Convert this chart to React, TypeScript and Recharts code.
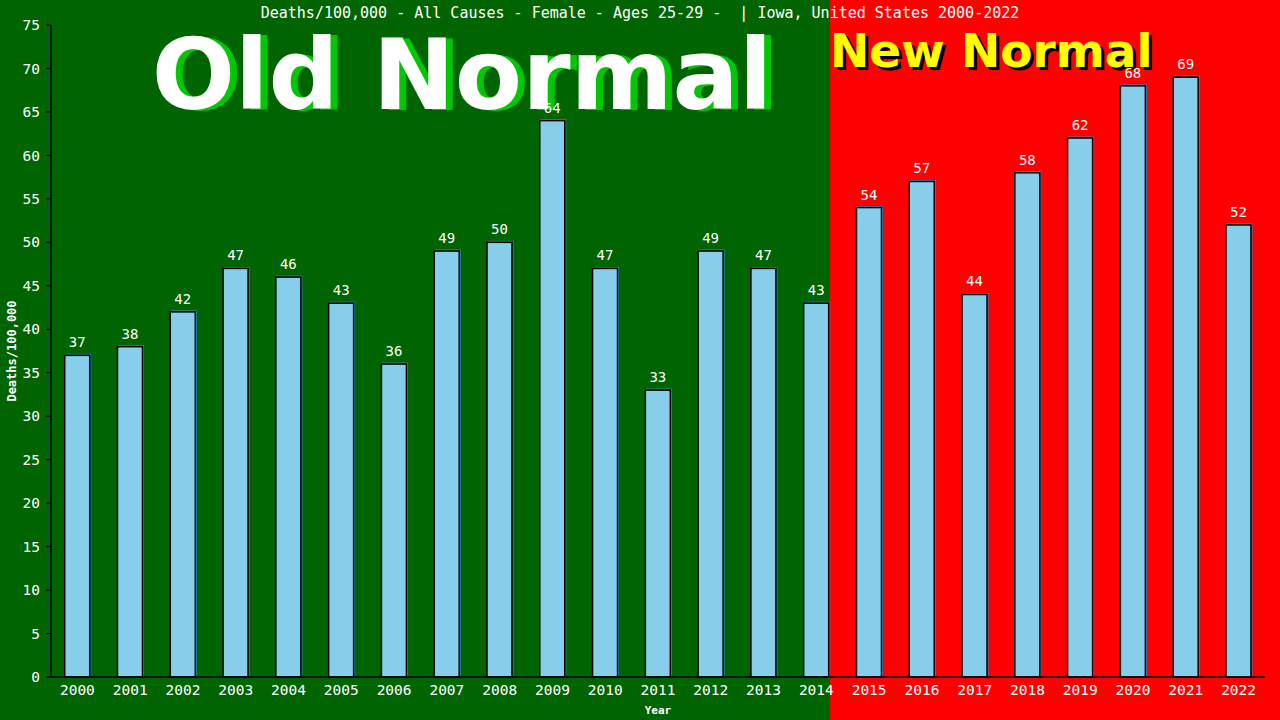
import { Bar, BarChart, LabelList, XAxis, YAxis } from "recharts";

const years = [
  "2000", "2001", "2002", "2003", "2004", "2005", "2006", "2007", "2008", "2009", "2010", "2011",
  "2012", "2013", "2014", "2015", "2016", "2017", "2018", "2019", "2020", "2021", "2022",
];
const deaths = [37, 38, 42, 47, 46, 43, 36, 49, 50, 64, 47, 33, 49, 47, 43, 54, 57, 44, 58, 62, 68, 69, 52];
const yTicks = [0, 5, 10, 15, 20, 25, 30, 35, 40, 45, 50, 55, 60, 65, 70, 75];
const title = "Deaths/100,000 - All Causes - Female - Ages 25-29 -  | Iowa, United States 2000-2022";

const data = years.map((year, i) => ({ year, deaths: deaths[i] }));

const mono = "'DejaVu Sans Mono', monospace";
const sans = "'DejaVu Sans', sans-serif";

// light blue bar with black outline and a thin blue edge up/right
function BarShape(props: any) {
  const { x, y, width, height } = props;
  return (
    <g>
      <rect x={x + 1} y={y - 1} width={width} height={height + 1} fill="none" stroke="#3b84c4" strokeWidth={1} />
      <rect x={x} y={y} width={width} height={height} fill="#87ceeb" stroke="#000" strokeWidth={1.5} />
    </g>
  );
}

export default function App() {
  return (
    <div
      style={{
        position: "absolute",
        left: 0,
        top: 0,
        width: 1280,
        height: 720,
        background: "linear-gradient(to right, #006400 0px, #006400 830px, #ff0000 830px, #ff0000 1280px)",
      }}
    >
      <BarChart
        width={1280}
        height={720}
        data={data}
        margin={{ top: 25, right: 15, bottom: 0, left: 0 }}
        barCategoryGap="26%"
      >
        <text x={469} y={110} textAnchor="middle" fontFamily={sans} fontWeight="bold" fontSize={98} fill="#00c800">
          Old Normal
        </text>
        <text x={462} y={109} textAnchor="middle" fontFamily={sans} fontWeight="bold" fontSize={98} fill="#ffffff">
          Old Normal
        </text>
        <text x={833} y={70} fontFamily={sans} fontWeight="bold" fontSize={47} fill="#000000">
          New Normal
        </text>
        <text x={830} y={67} fontFamily={sans} fontWeight="bold" fontSize={47} fill="#ffff00">
          New Normal
        </text>
        <text
          x={640}
          y={18}
          textAnchor="middle"
          fontFamily={mono}
          fontSize={15}
          fill="#ffffff"
          style={{ whiteSpace: "pre" }}
        >
          {title}
        </text>
        <text
          x={12}
          y={351}
          transform="rotate(-90 12 351)"
          textAnchor="middle"
          dominantBaseline="central"
          fontFamily={mono}
          fontWeight="bold"
          fontSize={12}
          fill="#ffffff"
        >
          Deaths/100,000
        </text>
        <XAxis
          dataKey="year"
          height={43}
          interval={0}
          tickLine={false}
          tickSize={0}
          tickMargin={8}
          axisLine={{ stroke: "#000", strokeWidth: 1.5 }}
          tick={{ fill: "#fff", fontSize: 14.5, fontFamily: mono }}
          label={{
            value: "Year",
            position: "insideBottom",
            offset: 6,
            fill: "#fff",
            fontSize: 11,
            fontWeight: "bold",
            fontFamily: mono,
          }}
        />
        <YAxis
          width={51}
          domain={[0, 75]}
          ticks={yTicks}
          interval={0}
          tickSize={5}
          tickMargin={6}
          tickLine={{ stroke: "#000" }}
          axisLine={{ stroke: "#000", strokeWidth: 1.5 }}
          tick={{ fill: "#fff", fontSize: 14.5, fontFamily: mono }}
        />
        <YAxis
          yAxisId="right"
          orientation="right"
          width={0}
          domain={[0, 75]}
          tick={false}
          tickLine={false}
          axisLine={{ stroke: "#000", strokeWidth: 1.5 }}
        />
        <Bar dataKey="deaths" shape={<BarShape />} isAnimationActive={false}>
          <LabelList
            dataKey="deaths"
            position="top"
            offset={8}
            fill="#fff"
            fontSize={14}
            fontFamily={mono}
          />
        </Bar>
      </BarChart>
    </div>
  );
}
